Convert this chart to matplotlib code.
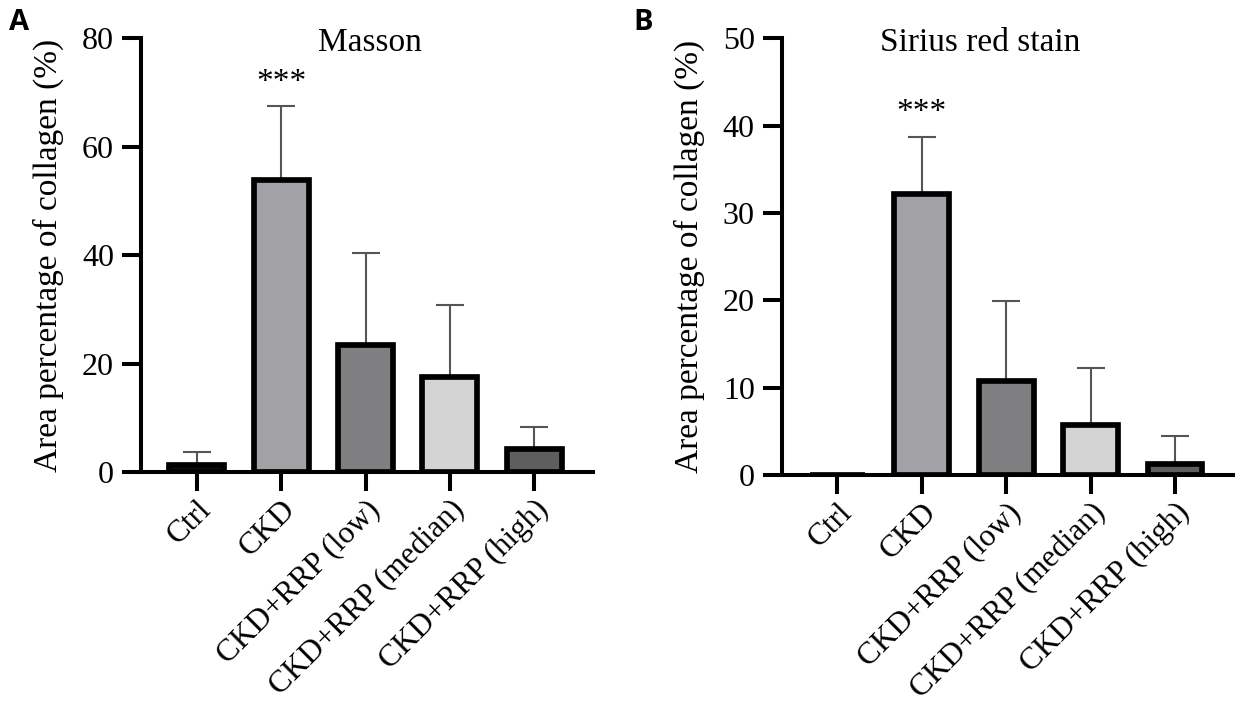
import matplotlib
matplotlib.use('Agg')
import matplotlib.pyplot as plt
from matplotlib.transforms import ScaledTranslation
import numpy as np


groups = ["Ctrl", "CKD", "CKD+RRP (low)", "CKD+RRP (median)", "CKD+RRP (high)"]
fills = ["#111111", "#a2a2a6", "#7f7f81", "#d4d4d4", "#5e5e5e"]

masson_mean = [1.3, 53.8, 23.4, 17.5, 4.3]
masson_top = [3.7, 67.6, 40.5, 30.9, 8.3]

sirius_mean = [0.0, 32.2, 10.8, 5.7, 1.3]
sirius_top = [0.0, 38.7, 19.9, 12.2, 4.5]

plt.rcParams['font.family'] = ['Liberation Serif', 'DejaVu Serif']


def draw_panel(fig, ax, means, tops, ymax, step, title, title_x, star_y):
    x = np.arange(len(groups))
    means = np.array(means)
    sd = np.array(tops) - means
    ax.errorbar(x, means, yerr=[np.zeros_like(sd), sd], fmt='none',
                ecolor='#555555', elinewidth=1.5, capsize=10, capthick=1.5,
                zorder=1)
    ax.bar(x, means, width=0.65, color=fills, edgecolor='black',
           linewidth=4.1, zorder=2)
    ax.set_xlim(-0.66, 4.69)
    ax.set_ylim(0, ymax)
    ax.set_yticks(np.arange(0, ymax + 1, step))
    ax.set_xticks(x)
    ax.set_xticklabels(groups, rotation=45, ha='right', va='top',
                       rotation_mode='anchor', fontsize=22.5)
    shift = ScaledTranslation(0.09, 0.02, fig.dpi_scale_trans)
    for lab in ax.get_xticklabels():
        lab.set_transform(lab.get_transform() + shift)
    for s in ['top', 'right']:
        ax.spines[s].set_visible(False)
    for s in ['left', 'bottom']:
        ax.spines[s].set_linewidth(2.9)
    ax.tick_params(axis='both', width=2.9, length=13.5, pad=6)
    ax.tick_params(axis='y', labelsize=23)
    ax.tick_params(axis='x', pad=3)
    ax.set_ylabel("Area percentage of collagen (%)", fontsize=24, labelpad=13)
    ax.text(title_x, 0.99, title, transform=ax.transAxes, ha='center',
            va='center', fontsize=24)
    ax.text(1, star_y, "***", ha='center', va='center', fontsize=24)


fig = plt.figure(figsize=(12.37, 7.10), dpi=100)
ax1 = fig.add_axes([0.114, 0.335, 0.365, 0.611])
ax2 = fig.add_axes([0.632, 0.331, 0.365, 0.615])

draw_panel(fig, ax1, masson_mean, masson_top, 80, 20, "Masson", 0.507, 71.9)
draw_panel(fig, ax2, sirius_mean, sirius_top, 50, 10, "Sirius red stain", 0.44, 41.5)

fig.text(0.007, 0.968, "A", fontsize=21, fontweight='bold',
         family='Open Sans', va='center')
fig.text(0.512, 0.968, "B", fontsize=21, fontweight='bold',
         family='Open Sans', va='center')

fig.savefig("out.png", dpi=100)
